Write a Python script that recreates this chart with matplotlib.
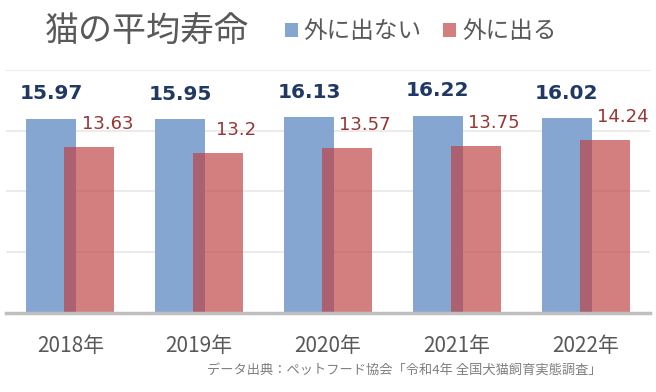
import matplotlib
matplotlib.use("Agg")
import matplotlib.pyplot as plt
import numpy as np

# data
years = ['2018年', '2019年', '2020年', '2021年', '2022年']
indoor = [15.97, 15.95, 16.13, 16.22, 16.02]    # 外に出ない
outdoor = [13.63, 13.2, 13.57, 13.75, 14.24]    # 外に出る
source = 'データ出典：ペットフード協会「令和4年 全国犬猫飼育実態調査」'

plt.rcParams['font.family'] = ['Noto Sans CJK JP', 'DejaVu Sans']

fig = plt.figure(figsize=(6.56, 3.92), dpi=100)
ax = fig.add_axes([6 / 656, 79 / 392, 644 / 656, 243 / 392])

x = np.arange(len(years))
off = 0.147
w = 0.388
ax.bar(x - off, indoor, w, color='#84A6D1', label='外に出ない', zorder=2)
ax.bar(x + off, outdoor, w, color='#C04040', alpha=0.67, label='外に出る', zorder=3)

# value labels
for xi, v in zip(x, indoor):
    ax.annotate(f'{v:.2f}', (xi - off, v), xytext=(0, 18), textcoords='offset points',
                ha='center', va='center', fontsize=14.5, fontweight='bold',
                color='#1F3864', family='DejaVu Sans')
for xi, v in zip(x, outdoor):
    ax.annotate(str(v), (xi + off, v), xytext=(13, 16.5), textcoords='offset points',
                ha='center', va='center', fontsize=13, color='#953735',
                family='DejaVu Sans')

ax.set_xlim(-0.5, len(years) - 0.5)
ax.set_ylim(0, 20)
ax.set_yticks([0, 5, 10, 15, 20])
ax.yaxis.grid(True, color='#EBEBEB', lw=1.5, zorder=0)
ax.set_axisbelow(True)
ax.tick_params(axis='y', left=False, labelleft=False)
ax.set_xticks(x, years)
ax.tick_params(axis='x', length=0, pad=16, labelsize=15, labelcolor='#595959')
for s in ['left', 'right', 'top']:
    ax.spines[s].set_visible(False)
ax.spines['bottom'].set_color('#BFBFBF')
ax.spines['bottom'].set_linewidth(2.5)
ax.spines['bottom'].set_zorder(4)

fig.text(45 / 656, 1 - 32 / 392, '猫の平均寿命', fontsize=24.5, color='#595959',
         ha='left', va='center')
fig.legend(loc='center left', bbox_to_anchor=(285 / 656, 1 - 32 / 392), ncol=2,
           frameon=False, fontsize=17, labelcolor='#595959',
           handlelength=0.55, handleheight=0.55, handletextpad=0.25,
           columnspacing=0.9, borderpad=0, borderaxespad=0)
fig.text(602 / 656, 1 - 371 / 392, source, fontsize=9.5, color='#7F7F7F',
         ha='right', va='center')

fig.savefig('out.png', dpi=100)
